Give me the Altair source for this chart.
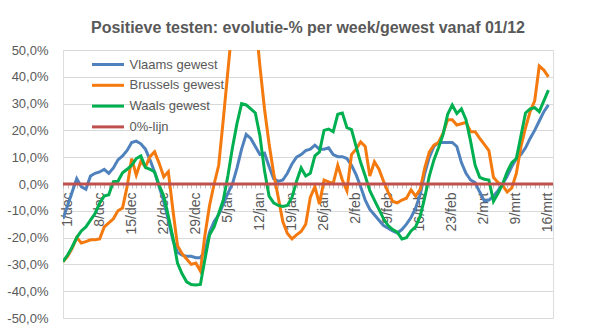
import json
import altair as alt
import pandas as pd

title_text = "Positieve testen: evolutie-% per week/gewest vanaf 01/12"
series_names = ["Vlaams gewest", "Brussels gewest", "Waals gewest", "0%-lijn"]
series_colors = ["#4F81BD", "#F47A0F", "#00B050", "#C0504D"]
week_labels = ["1/dec", "8/dec", "15/dec", "22/dec", "29/dec", "5/jan", "12/jan",
               "19/jan", "26/jan", "2/feb", "9/feb", "16/feb", "23/feb", "2/mrt",
               "9/mrt", "16/mrt"]

# daily values (day 0 = 1 december), percent
vlaams = [-13, -8, -3, 2, -1, -2, 3, 4, 4.5, 5.5,
          4, 6, 9, 10.5, 12.5, 15.5, 16, 15, 13, 9,
          4.5, -1, -6.5, -13.5, -21, -25.5, -26.5, -27, -27, -27.5,
          -27.5, -25, -18, -14, -11.5, -7.5, -3.5, 0, 6, 13,
          18.5, 17, 14, 11, 11.5, 6.5, 2, 1, 1.5, 4,
          7.5, 10, 11, 12.5, 13, 14.5, 13, 13, 13.5, 11,
          10.2, 10.2, 9.5, 7, 3.5, -1, -6, -9.5, -11.5, -13.5,
          -15.5, -16.5, -17.5, -18.3, -17, -15, -12.5, -9, -4, 4,
          10, 14, 15.5, 15.5, 15.5, 15.5, 14, 8, 4, 1.5,
          0.5, -3, -6.3, -6, -4.5, -2.5, 0, 3, 6.5, 9.5,
          11, 13.5, 17, 20, 23.5, 27, 29.5]
brussels = [-29, -27, -24, -20, -22, -21.5, -20.8, -20.8, -20.5, -16,
            -14.5, -13, -10, -9, -1, 9.5, 3.3, 8.5, 6.4, 10.2,
            12, 7.7, 2.7, 4.6, -9.7, -23, -26, -28, -30, -29.5,
            -32.5, -19, -8, 0, 7, 24, 42, 60, 75, 85,
            85, 76, 62, 44, 28, 15, 4, -5, -14, -18.5,
            -20.5, -19, -17.7, -15, -5, -1, -7.5, 1.5, 0.8, 0.2,
            7, 1.5, -2.5, 11, 13, 15.7, 14, 3, 8.3, 5.5,
            1, -3, -6.5, -7, -6, -5.3, -2.2, -4.5, -2, 6,
            12, 14.5, 15.5, 19, 24, 24, 22, 22.5, 23, 19.5,
            19.5, 17, 14.8, 12.5, 2.5, 0.5, -0.5, -3, -1.5, 4,
            14, 21, 27, 31, 44, 42.5, 40]
waals = [-29, -26.5, -23.5, -20, -17.5, -16, -13.5, -11, -7.2, -4.5,
         -4, 0.9, 1, 4.2, 5.5, 7, 9.5, 10.5, 6.2, 5.5,
         4.5, -0.5, -4.5, -12, -20, -29.5, -33.5, -36.5, -37.5, -37.7,
         -37.5, -28, -19, -16, -11, -6, 3, 13.5, 22.6, 30,
         29.5, 28, 26.5, 18, 5, -4.5, -7, -8, -8.4, -8,
         -5, 1, 6, 3, 4, 10.5, 12, 20, 20.5, 19.5,
         26, 26.5, 21, 20.3, 14, 8, 3, -2.5, -6, -9.5,
         -13, -15.5, -17, -18, -20.5, -20, -17.5, -16, -12, -5,
         3, 9, 13.5, 18.5, 26, 29.5, 26.3, 28, 24, 16,
         7, 2.5, 1.8, 1.5, -6.5, -3.5, 0, 4.5, 8, 9.5,
         18, 26.5, 28, 28.5, 27, 31, 35]
zero_days = [0, 107]
zero_values = [0, 0]

rows = []
for name, vals in zip(series_names[:3], [vlaams, brussels, waals]):
    for d, v in enumerate(vals):
        rows.append({"day": d, "value": v, "series": name})
df_series = pd.DataFrame(rows)
df_zero = pd.DataFrame({"day": zero_days, "value": zero_values,
                        "series": [series_names[3]] * len(zero_days)})

FONT = "Liberation Sans"
GREY = "#595959"

label_expr = ("datum.value % 7 == 0 ? " + json.dumps(week_labels) +
              "[floor(datum.value / 7)] : ''")

x_enc = alt.X("day:Q",
              scale=alt.Scale(domain=[0, 107], nice=False, zero=False),
              axis=alt.Axis(values=list(range(108)), labelExpr=label_expr,
                            labelAngle=270, offset=-134, domain=False, grid=False,
                            tickColor="#BFBFBF", tickSize=4, labelPadding=4,
                            labelFont=FONT, labelFontSize=14, labelColor=GREY,
                            labelOffset=4, labelOverlap=False, title=None))
y_enc = alt.Y("value:Q",
              scale=alt.Scale(domain=[-50, 50], nice=False),
              axis=alt.Axis(values=list(range(-50, 51, 10)),
                            labelExpr="replace(replace(format(datum.value, '.1f'), '.', ','), '\u2212', '-') + '%'",
                            domain=False, ticks=False, gridColor="#D9D9D9",
                            gridWidth=1, labelPadding=15, labelFont=FONT,
                            labelFontSize=13, labelColor=GREY, title=None))
legend = alt.Legend(title=None, orient="none", legendX=33.5, legendY=3,
                    symbolType="M-1.6,0H1.6", symbolSize=400, symbolStrokeWidth=3,
                    labelFont=FONT, labelFontSize=13, labelColor=GREY,
                    rowPadding=1.8, labelOffset=10, padding=0)
color_enc = alt.Color("series:N",
                      scale=alt.Scale(domain=series_names, range=series_colors),
                      legend=legend)
width_enc = alt.StrokeWidth("series:N",
                            scale=alt.Scale(domain=series_names, range=[3, 3, 3, 2]),
                            legend=legend)

lines = alt.Chart(df_series).mark_line(clip=True).encode(
    x=x_enc, y=y_enc, color=color_enc, strokeWidth=width_enc)
zero = alt.Chart(df_zero).mark_line(clip=True).encode(
    x=x_enc, y=y_enc, color=color_enc, strokeWidth=width_enc)

chart = alt.layer(lines, zero).properties(
    width=490, height=268,
    title=alt.TitleParams(title_text, anchor="middle", font=FONT, fontSize=16,
                          fontWeight="bold", color=GREY, baseline="alphabetic",
                          frame="group", offset=16, dy=21),
    autosize=alt.AutoSizeParams(type="none"),
    padding={"left": 63, "top": 50, "right": 36, "bottom": 12},
).configure_view(stroke=None).configure(background="white")

chart.save("out.html", embed_options={"renderer": "svg", "actions": False})
